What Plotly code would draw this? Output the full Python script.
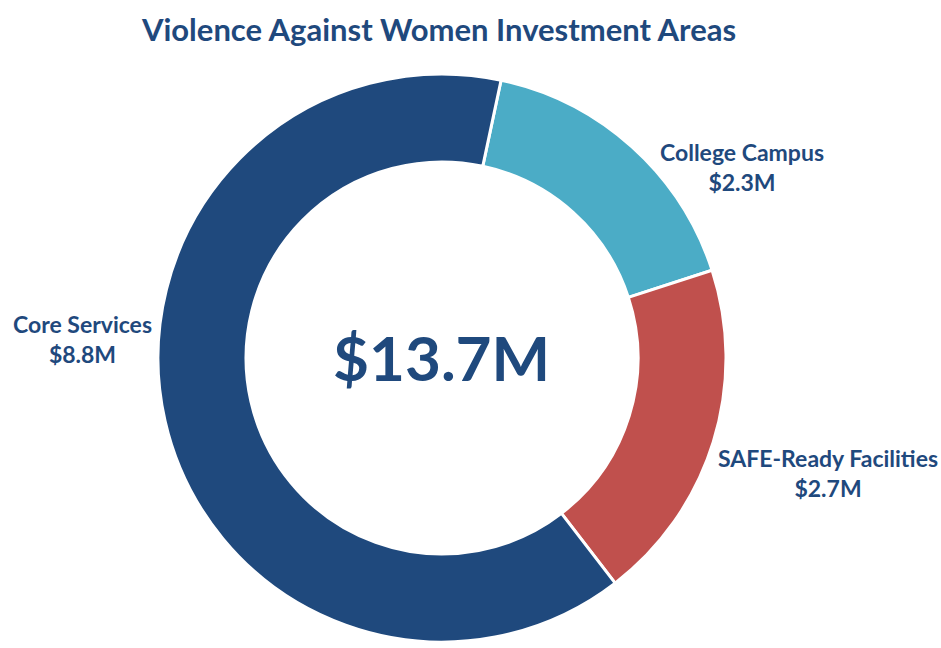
import plotly.graph_objects as go

categories = ["College Campus", "SAFE-Ready Facilities", "Core Services"]
values = [2.3, 2.7, 8.8]
value_labels = ["$2.3M", "$2.7M", "$8.8M"]
colors = ["#4BACC6", "#C0504D", "#1F497D"]
total_label = "$13.7M"
title_text = "Violence Against Women Investment Areas"

W, H = 941, 648
cx, cy, r = 442, 358, 284
TXT = "#1F497D"
FONT = "Lato"

fig = go.Figure(go.Pie(
    labels=categories,
    values=values,
    hole=0.69,
    sort=False,
    direction="clockwise",
    rotation=12,
    marker=dict(colors=colors, line=dict(color="white", width=3)),
    textinfo="none",
    hoverinfo="label+value",
    showlegend=False,
    domain=dict(x=[(cx - r) / W, (cx + r) / W], y=[(H - cy - r) / H, (H - cy + r) / H]),
))

label_pos = {
    "College Campus": (742, 167),
    "SAFE-Ready Facilities": (828, 473),
    "Core Services": (82, 339),
}
for cat, vl in zip(categories, value_labels):
    x, y = label_pos[cat]
    fig.add_annotation(
        x=x / W, y=1 - y / H, xref="paper", yref="paper",
        text=f"{cat}<br>{vl}", showarrow=False,
        font=dict(family=FONT, size=23, color=TXT, weight="bold"),
        align="center", xanchor="center", yanchor="middle",
    )

fig.add_annotation(
    x=441 / W, y=1 - 357 / H, xref="paper", yref="paper",
    text=total_label, showarrow=False,
    font=dict(family=FONT, size=62, color=TXT, weight="bold"),
    xanchor="center", yanchor="middle",
)

fig.update_layout(
    width=W, height=H,
    margin=dict(l=0, r=0, t=0, b=0),
    paper_bgcolor="white", plot_bgcolor="white",
    title=dict(
        text=title_text, x=439 / W, xanchor="center", y=1 - 30 / H, yanchor="middle",
        font=dict(family=FONT, size=31, color=TXT, weight="bold"),
    ),
)

fig.write_html(
    "out.html",
    config={"displayModeBar": False},
    post_script="document.body.style.margin='0';document.body.style.overflow='hidden';",
)
